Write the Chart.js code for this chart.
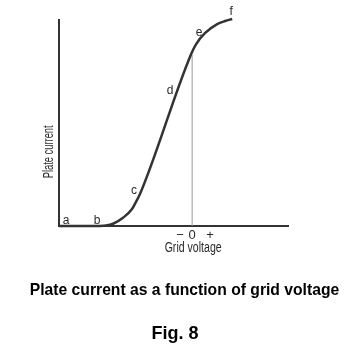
<!DOCTYPE html>
<html>
<head>
<meta charset="utf-8">
<script src="https://cdn.jsdelivr.net/npm/chart.js@4/dist/chart.umd.min.js"></script>
<style>
html,body{margin:0;padding:0;background:#fff;}
#wrap{position:relative;width:357px;height:361px;overflow:hidden;}
#c{position:absolute;left:0;top:0;}
.cap{position:absolute;left:0;width:357px;text-align:center;color:#000;font-family:Arial,"Liberation Sans",Helvetica,sans-serif;font-weight:bold;white-space:nowrap;}
#caption{top:282px;font-size:15.7px;line-height:15.7px;padding-left:12px;box-sizing:border-box;}
#fig{top:324px;font-size:18px;line-height:18px;padding-right:7px;box-sizing:border-box;}
</style>
</head>
<body>
<div id="wrap">
<canvas id="c" width="357" height="361"></canvas>
<div class="cap" id="caption">Plate current as a function of grid voltage</div>
<div class="cap" id="fig">Fig. 8</div>
</div>
<script>
// Grid voltage (x) and plate current (y) along the characteristic curve
const curveX = [-10, -6.92, -6.47, -5.94, -5.19, -4.53, -4.14, -3.91, -0.08, 0.30, 0.98, 1.88, 2.48, 3.01];
const curveY = [0, 0, 0.02, 0.11, 0.40, 0.81, 1.27, 1.56, 8.34, 8.83, 9.37, 9.80, 9.95, 10.05];
// Vertical marker at zero grid voltage
const zeroLineX = [0, 0];
const zeroLineY = [0, 8.3];
// Point letters on the curve
const pointNames = ['a', 'b', 'c', 'd', 'e', 'f'];
const pointX = [-9.47, -7.14, -4.36, -1.65, 0.53, 2.93];
const pointY = [0.24, 0.24, 1.71, 6.59, 9.37, 10.39];
// Tick labels of the grid-voltage axis
const tickValues = [-0.9, 0, 1.35];
const tickLabels = ['\u2212', '0', '+'];
const xTitle = 'Grid voltage';
const yTitle = 'Plate current';

const sans = '"Liberation Sans", Arial, sans-serif';

const letterPlugin = {
  id: 'letters',
  afterDraw(chart) {
    const ctx = chart.ctx;
    const xs = chart.scales.x, ys = chart.scales.y;
    ctx.save();
    ctx.fillStyle = '#2a2a2a';
    ctx.textAlign = 'center';
    ctx.textBaseline = 'middle';
    ctx.font = '12px ' + sans;
    pointNames.forEach((n, i) => {
      ctx.fillText(n, xs.getPixelForValue(pointX[i]), ys.getPixelForValue(pointY[i]), 7);
    });
    // x axis title, centred under zero grid voltage (condensed)
    ctx.font = '14px ' + sans;
    ctx.textBaseline = 'alphabetic';
    ctx.fillText(xTitle, xs.getPixelForValue(0) + 1, ys.bottom + 26, 57);
    // y axis title (condensed, rotated)
    const yc = ys.getPixelForValue(3.6);
    ctx.translate(xs.left - 10, yc);
    ctx.rotate(-Math.PI / 2);
    ctx.font = '14px ' + sans;
    ctx.textBaseline = 'middle';
    ctx.fillText(yTitle, 0, 0, 53);
    ctx.restore();
  }
};

new Chart(document.getElementById('c'), {
  type: 'scatter',
  data: {
    datasets: [
      {
        data: curveX.map((x, i) => ({x, y: curveY[i]})),
        showLine: true,
        borderColor: '#333',
        borderWidth: 2.5,
        pointRadius: 0,
        cubicInterpolationMode: 'monotone',
        clip: false
      },
      {
        data: zeroLineX.map((x, i) => ({x, y: zeroLineY[i]})),
        showLine: true,
        borderColor: '#999',
        borderWidth: 1,
        pointRadius: 0
      }
    ]
  },
  options: {
    responsive: false,
    animation: false,
    events: [],
    layout: { padding: { left: 59, right: 69, top: 20, bottom: 115 } },
    plugins: {
      legend: { display: false },
      tooltip: { enabled: false }
    },
    scales: {
      x: {
        type: 'linear',
        min: -10,
        max: 7.2,
        grid: { display: false, drawTicks: false },
        border: { display: true, color: '#333', width: 2 },
        afterBuildTicks(scale) { scale.ticks = tickValues.map(v => ({value: v})); },
        afterFit(scale) { scale.height = 20; },
        ticks: {
          autoSkip: false,
          maxRotation: 0,
          padding: 2,
          color: '#2a2a2a',
          font: { family: sans, size: 13, lineHeight: 1.1 },
          callback(value) { const i = tickValues.indexOf(value); return i >= 0 ? tickLabels[i] : ''; }
        }
      },
      y: {
        type: 'linear',
        min: 0,
        max: 10,
        grid: { display: false, drawTicks: false },
        border: { display: true, color: '#333', width: 2 },
        ticks: { display: false }
      }
    }
  },
  plugins: [letterPlugin]
});
</script>
</body>
</html>
